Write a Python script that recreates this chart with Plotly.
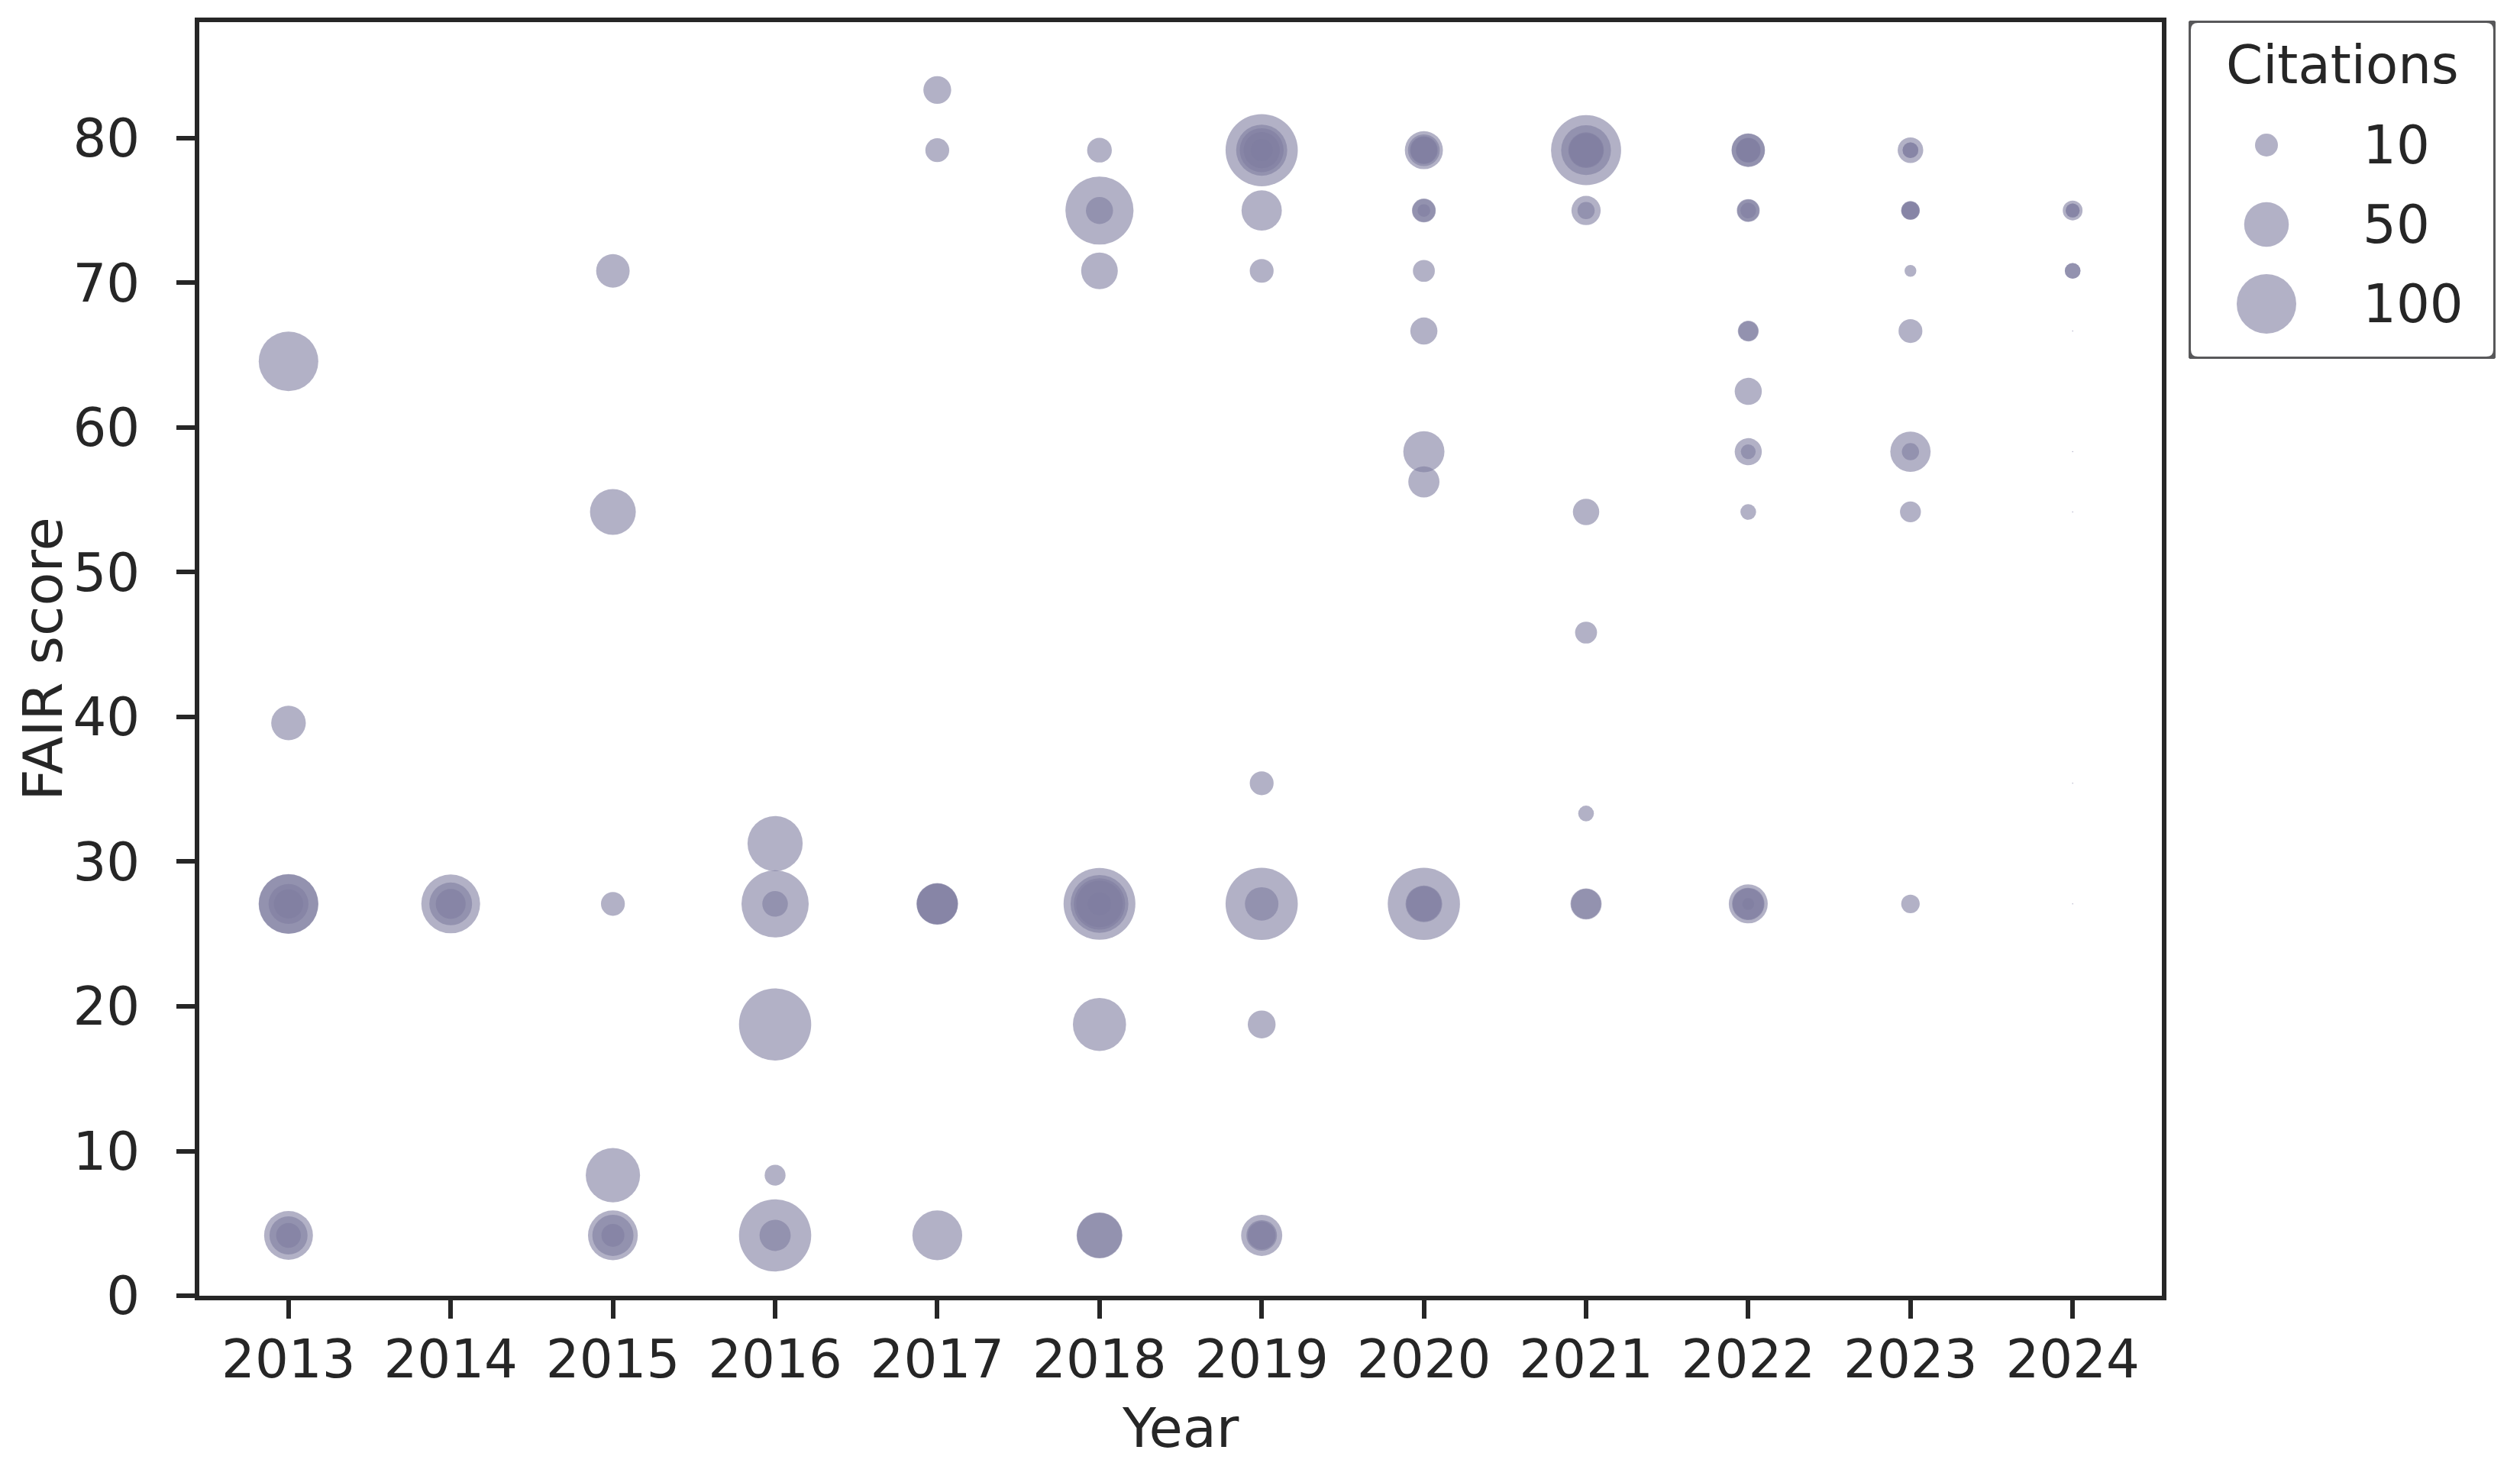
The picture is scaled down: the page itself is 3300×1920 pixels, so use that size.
import plotly.graph_objects as go

# ---- data (year, FAIR score, citations), one entry per publication ----
years = [
    2013, 2013, 2013, 2013, 2013, 2013, 2013, 2013, 2013,
    2014, 2014, 2014,
    2015, 2015, 2015, 2015, 2015, 2015, 2015,
    2016, 2016, 2016, 2016, 2016, 2016, 2016,
    2017, 2017, 2017, 2017, 2017, 2017,
    2018, 2018, 2018, 2018, 2018, 2018, 2018, 2018, 2018, 2018, 2018, 2018,
    2019, 2019, 2019, 2019, 2019, 2019, 2019, 2019, 2019, 2019, 2019, 2019, 2019, 2019,
    2020, 2020, 2020, 2020, 2020, 2020, 2020, 2020, 2020, 2020, 2020, 2020, 2020, 2020,
    2021, 2021, 2021, 2021, 2021, 2021, 2021, 2021, 2021, 2021, 2021,
    2022, 2022, 2022, 2022, 2022, 2022, 2022, 2022, 2022, 2022, 2022, 2022, 2022, 2022, 2022, 2022, 2022,
    2023, 2023, 2023, 2023, 2023, 2023, 2023, 2023, 2023, 2023, 2023, 2023,
    2024, 2024, 2024, 2024, 2024, 2024, 2024, 2024, 2024, 2024,
]
scores = [
    64.58, 39.58, 27.08, 27.08, 27.08, 27.08, 4.17, 4.17, 4.17,
    27.08, 27.08, 27.08,
    70.83, 54.17, 27.08, 8.33, 4.17, 4.17, 4.17,
    31.25, 27.08, 27.08, 18.75, 8.33, 4.17, 4.17,
    83.33, 79.17, 27.08, 27.08, 27.08, 4.17,
    79.17, 75.00, 75.00, 70.83, 27.08, 27.08, 27.08, 27.08, 27.08, 18.75, 4.17, 4.17,
    79.17, 79.17, 79.17, 79.17, 79.17, 75.00, 70.83, 35.42, 27.08, 27.08, 18.75, 4.17, 4.17, 4.17,
    79.17, 79.17, 79.17, 79.17, 75.00, 75.00, 75.00, 70.83, 66.67, 58.33, 56.25, 27.08, 27.08, 27.08,
    79.17, 79.17, 79.17, 79.17, 75.00, 75.00, 54.17, 45.83, 33.33, 27.08, 27.08,
    79.17, 79.17, 79.17, 79.17, 75.00, 75.00, 75.00, 66.67, 66.67, 62.50, 58.33, 58.33, 54.17, 27.08, 27.08, 27.08, 27.08,
    79.17, 79.17, 79.17, 75.00, 75.00, 75.00, 70.83, 66.67, 58.33, 58.33, 54.17, 27.08,
    75.00, 75.00, 75.00, 70.83, 70.83, 66.67, 58.33, 54.17, 35.42, 27.08,
]
citations = [
    100, 27, 101, 99, 38, 18, 62, 34, 12,
    97, 45, 19,
    25, 53, 11, 80, 65, 41, 10,
    83, 134, 13, 159, 8, 159, 21,
    16, 11, 42, 41, 39, 65,
    12, 138, 15, 31, 157, 93, 70, 55, 10, 76, 53, 51,
    159, 69, 48, 30, 9, 39, 11, 11, 159, 25, 16, 41, 20, 16,
    34, 22, 16, 14, 11, 10, 2.4, 9, 15, 41, 21, 159, 31, 28,
    148, 65, 29, 26, 18, 5, 14, 9, 4, 21, 19,
    25, 24, 12, 11, 10, 9, 4, 8, 7, 15, 15, 3.5, 4, 36, 23, 21, 2,
    13, 4, 4, 6, 6, 5, 2, 11, 39, 5, 8, 6,
    7, 3, 3, 4, 4, 0, 0, 0, 0, 0,
]
year_ticks = list(range(2013, 2025))
score_ticks = [0, 10, 20, 30, 40, 50, 60, 70, 80]
legend_values = [10, 50, 100]
legend_labels = ["10", "50", "100"]
legend_title = "Citations"

# ---- style ----
FONT = "DejaVu Sans"
FS = 69
FS_TITLE = 72
INK = "#262626"
FILL = "rgba(127,125,160,0.6)"


def diam(c):
    d = 30.0 * (max(c, 0) / 10.0) ** 0.415
    return max(d, 1.5)


# the html body adds an 8 px margin, so the figure is drawn 8 px smaller and
# all pixel positions below are in figure coordinates (page coords - 8)
W, H = 3284, 1904
plot_left, plot_right, plot_top, plot_bottom = 253, 2823, 20.6, 1689
leg_l, leg_r, leg_t, leg_b = 2858, 3260, 19, 462
ML, MR, MT, MB = plot_left, 12, 12, H - plot_bottom
PW, PH = W - ML - MR, H - MT - MB

fig = go.Figure()
fig.add_trace(go.Scatter(
    x=years, y=scores, mode="markers",
    marker=dict(size=[diam(c) for c in citations], sizemode="diameter",
                color=FILL, opacity=1, line=dict(width=0)),
    cliponaxis=False, hoverinfo="skip", showlegend=False,
))

# size legend drawn from the legend values through the same size mapping
lw_, lh_ = leg_r - leg_l, leg_b - leg_t
rows_y = [163, 267, 371]
fig.add_trace(go.Scatter(
    x=[102] * 3, y=rows_y, xaxis="x2", yaxis="y2", mode="markers",
    marker=dict(size=[diam(v) for v in legend_values], sizemode="diameter",
                color=FILL, opacity=1, line=dict(width=0)),
    hoverinfo="skip", showlegend=False,
))
r = 12
path = (f"M {r},0 L {lw_-r},0 Q {lw_},0 {lw_},{r} L {lw_},{lh_-r} Q {lw_},{lh_} {lw_-r},{lh_} "
        f"L {r},{lh_} Q 0,{lh_} 0,{lh_-r} L 0,{r} Q 0,0 {r},0 Z")
fig.add_shape(type="path", path=path, xref="x2", yref="y2",
              line=dict(color="#58585a", width=6), fillcolor="white", layer="below")
fig.add_annotation(x=201, y=58, xref="x2", yref="y2", text=legend_title, showarrow=False,
                   xanchor="center", yanchor="middle", font=dict(family=FONT, size=FS, color=INK))
for yy, t in zip(rows_y, legend_labels):
    fig.add_annotation(x=226, y=yy, xref="x2", yref="y2", text=t, showarrow=False,
                       xanchor="left", yanchor="middle", font=dict(family=FONT, size=FS, color=INK))

# axis titles
fig.add_annotation(x=0.5, xref="x domain", y=0, yref="y domain", yshift=-(1862 - plot_bottom),
                   text="Year", showarrow=False, xanchor="center", yanchor="middle",
                   font=dict(family=FONT, size=FS_TITLE, color=INK))
fig.add_annotation(x=0, xref="x domain", xshift=48 - plot_left, y=0.5, yref="y domain",
                   text="FAIR score", textangle=-90, showarrow=False,
                   xanchor="center", yanchor="middle",
                   font=dict(family=FONT, size=FS_TITLE, color=INK))

axis_common = dict(showline=True, mirror=True, linecolor=INK, linewidth=6,
                   ticks="outside", ticklen=24, tickwidth=6, tickcolor=INK,
                   showgrid=False, zeroline=False, automargin=False,
                   tickfont=dict(family=FONT, size=FS, color=INK))
fig.update_layout(
    template="none",
    width=W, height=H, margin=dict(l=ML, r=MR, t=MT, b=MB, pad=0),
    paper_bgcolor="white", plot_bgcolor="white", showlegend=False,
    xaxis=dict(domain=[0, (plot_right - ML) / PW], range=[2012.45, 2024.55],
               tickmode="array", tickvals=year_ticks, ticktext=[str(y) for y in year_ticks],
               ticklabelstandoff=-6, **axis_common),
    yaxis=dict(domain=[0, (plot_bottom - plot_top) / PH], range=[0, 88.04],
               tickmode="array", tickvals=score_ticks, ticktext=[str(s) for s in score_ticks],
               ticklabelstandoff=34, **axis_common),
    xaxis2=dict(domain=[(leg_l - ML) / PW, (leg_r - ML) / PW], range=[0, lw_], anchor="y2",
                visible=False, fixedrange=True),
    yaxis2=dict(domain=[(plot_bottom - leg_b) / PH, (plot_bottom - leg_t) / PH], range=[lh_, 0],
                anchor="x2", visible=False, fixedrange=True),
)
fig.write_html("out.html")
